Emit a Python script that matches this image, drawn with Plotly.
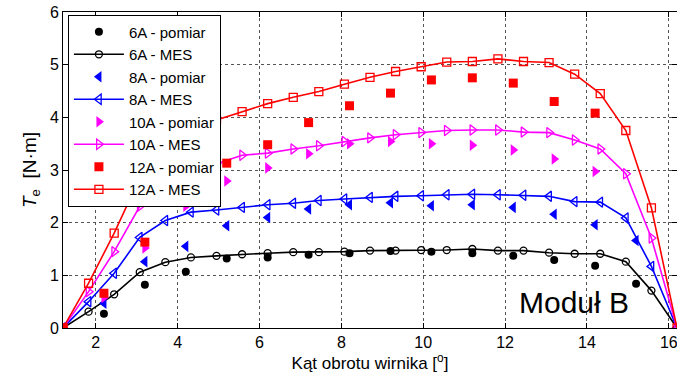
import plotly.graph_objects as go

# Rotor angle positions [deg]: FEM (MES) samples and measurement (pomiar) samples
angle_mes = [1.2, 1.825, 2.45, 3.075, 3.7, 4.325, 4.95, 5.575, 6.2, 6.825, 7.45,
             8.075, 8.7, 9.325, 9.95, 10.575, 11.2, 11.825, 12.45, 13.075, 13.7,
             14.325, 14.95, 15.575, 16.2]
angle_pom = [1.2, 2.2, 3.2, 4.2, 5.2, 6.2, 7.2, 8.2, 9.2, 10.2, 11.2, 12.2, 13.2, 14.2, 15.2]

# Electromagnetic torque Te [N·m]
te6_pom = [0, 0.27, 0.82, 1.07, 1.32, 1.34, 1.39, 1.42, 1.46, 1.45, 1.42, 1.37, 1.29, 1.18, 0.84]
te6_mes = [0, 0.31, 0.64, 1.06, 1.25, 1.34, 1.37, 1.40, 1.42, 1.44, 1.44, 1.45, 1.47,
           1.47, 1.48, 1.48, 1.50, 1.47, 1.47, 1.43, 1.41, 1.41, 1.26, 0.71, 0]
te8_pom = [0, 0.47, 1.26, 1.55, 1.94, 2.10, 2.26, 2.34, 2.38, 2.32, 2.34, 2.29, 2.16, 1.96, 1.66]
te8_mes = [0, 0.50, 1.04, 1.72, 2.04, 2.20, 2.24, 2.29, 2.34, 2.37, 2.42, 2.45, 2.48,
           2.50, 2.51, 2.53, 2.54, 2.53, 2.52, 2.50, 2.40, 2.39, 2.09, 1.17, 0]
te10_pom = [0, 0.58, 1.52, 2.31, 2.79, 3.04, 3.31, 3.50, 3.54, 3.50, 3.47, 3.38, 3.21, 2.97]
te10_mes = [0, 0.69, 1.45, 2.31, 2.75, 3.00, 3.12, 3.28, 3.32, 3.40, 3.46, 3.54, 3.61,
            3.67, 3.71, 3.75, 3.76, 3.76, 3.72, 3.71, 3.57, 3.40, 2.93, 1.71, 0]
te12_pom = [0, 0.66, 1.63, 2.45, 3.13, 3.48, 3.90, 4.22, 4.46, 4.71, 4.75, 4.65, 4.30, 4.08]
te12_mes = [0, 0.85, 1.80, 2.85, 3.35, 3.70, 3.95, 4.11, 4.26, 4.38, 4.49, 4.63, 4.76,
            4.87, 4.96, 5.05, 5.06, 5.11, 5.06, 5.04, 4.82, 4.45, 3.75, 2.28, 0]

x_ticks = [2, 4, 6, 8, 10, 12, 14, 16]
y_ticks = [0, 1, 2, 3, 4, 5, 6]

FONT = "Arial, Liberation Sans, Helvetica, sans-serif"

series = [
    ("6A", "#000000", "circle", 8, te6_pom, te6_mes),
    ("8A", "#0000ff", "triangle-left", 10, te8_pom, te8_mes),
    ("10A", "#ff00ff", "triangle-right", 10, te10_pom, te10_mes),
    ("12A", "#ff0000", "square", 9, te12_pom, te12_mes),
]

fig = go.Figure()
for name, color, sym, size, pom, mes in series:
    fig.add_trace(go.Scatter(
        x=angle_pom[:len(pom)], y=pom, mode="markers",
        name=f"{name} - pomiar", legendgroup=f"{name}p",
        marker=dict(symbol=sym, size=size, color=color, line=dict(width=0)),
    ))
    fig.add_trace(go.Scatter(
        x=angle_mes, y=mes, mode="lines+markers",
        name=f"{name} - MES", legendgroup=f"{name}m",
        line=dict(color=color, width=1.6),
        marker=dict(symbol=sym + "-open", size=size - 1, color=color,
                    line=dict(width=1.3, color=color)),
    ))

axis_common = dict(
    showline=True, linecolor="black", linewidth=1, mirror="ticks",
    ticks="inside", ticklen=5, tickcolor="black", tickwidth=1,
    showgrid=True, gridcolor="#555555", griddash="dot", gridwidth=1,
    zeroline=False, tickfont=dict(family=FONT, size=16, color="black"),
    ticklabeloverflow="allow",
)

fig.update_xaxes(
    range=[1.2, 16.2], tickvals=x_ticks,
    title=dict(text="Kąt obrotu wirnika [<sup>o</sup>]",
               font=dict(family=FONT, size=17, color="black"), standoff=6),
    **axis_common,
)
fig.update_yaxes(
    range=[0, 6], tickvals=y_ticks,
    title=dict(text="<i>T</i><sub>e</sub>  [N·m]",
               font=dict(family=FONT, size=19, color="black"), standoff=8),
    **axis_common,
)

fig.add_annotation(
    text="Moduł B", xref="paper", yref="paper", x=0.832, y=0.082,
    xanchor="center", yanchor="middle", showarrow=False,
    font=dict(family=FONT, size=30, color="black"),
)

fig.update_layout(
    width=677, height=383, autosize=False,
    margin=dict(l=63, r=0, t=12, b=55),
    paper_bgcolor="white", plot_bgcolor="white",
    font=dict(family=FONT, color="black"),
    legend=dict(
        x=0.008, y=0.992, xanchor="left", yanchor="top",
        bgcolor="white", bordercolor="black", borderwidth=1,
        font=dict(family=FONT, size=15, color="black"),
        itemwidth=50, tracegroupgap=0,
    ),
    showlegend=True,
)

fig.write_html("out.html")
